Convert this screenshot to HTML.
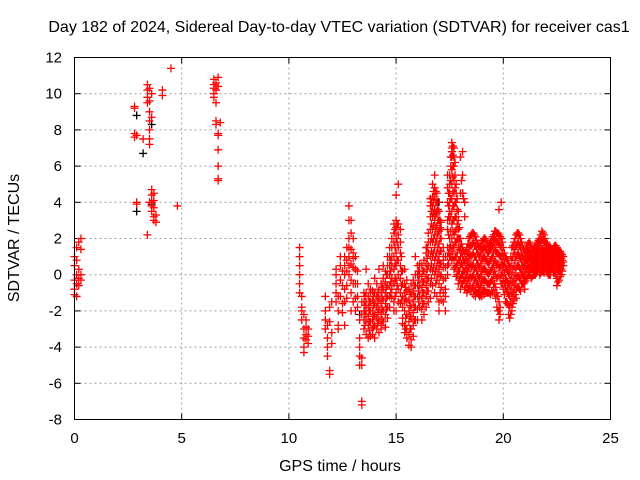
<!DOCTYPE html>
<html><head><meta charset="utf-8"><style>
body{margin:0;background:#fff}
svg{display:block;font-family:"Liberation Sans",sans-serif}
</style></head><body>
<svg id="chart" width="640" height="480" viewBox="0 0 640 480">
<text x="339" y="32" font-size="16" text-anchor="middle">Day 182 of 2024, Sidereal Day-to-day VTEC variation (SDTVAR) for receiver cas1</text>
<text x="340" y="471" font-size="16" text-anchor="middle">GPS time / hours</text>
<text transform="translate(19,238) rotate(-90)" font-size="16" text-anchor="middle">SDTVAR / TECUs</text>
<g id="grid"></g><g id="ticks"></g><g id="black"></g><g id="red"></g>
<rect x="74.5" y="57.5" width="536" height="362" fill="none" stroke="#000"/>
</svg>
<script>
const xTicks=[0,5,10,15,20,25];
const yTicks=[-8,-6,-4,-2,0,2,4,6,8,10,12];
const redGroups=[
[0.0,[-1.1,-0.8,0.5,1,-0.3]],[0.1,[-0.5,0,1.5,-1.2,0.8]],[0.2,[-0.2,0.3,1.8,-0.6]],[0.3,[2,0,-0.3,1.4]],
[2.8,[9.2,9.3,7.8,7.6]],[2.9,[4,3.9,7.7]],[3.2,[7.5]],[3.4,[10.5,10.2,9.8,9.5,2.2]],[3.5,[10.3,9.6,9,8.5,8,7.5,7.2,4]],
[3.6,[10,8.7,4.7,4.4,4,3.8,3.5]],[3.7,[4.5,4.1,3.7,3.2,3]],[3.8,[3.3,2.9]],[4.1,[10.2,9.9]],[4.5,[11.4]],[4.8,[3.8]],
[6.5,[10.8,10.5,10.3,10,9.8]],[6.6,[10.6,10.2,9.5,8.5,8.3]],[6.7,[10.9,10.4,7.8,7.7,6.9,6,5.3,5.2]],[6.8,[8.4]],
[10.5,[1.5,1,0.5,0,-0.5,-1]],[10.6,[-1.2,-1.8,-2,-2.5]],[10.7,[-2.2,-3,-3.5,-4,-4.3]],[10.8,[-2.5,-2.9,-3.3,-3.6]],[10.9,[-3,-3.4,-3.8]],
[11.7,[-1.2,-2,-2.5,-3]],[11.8,[-3.5,-4,-4.5,-2.8]],[11.9,[-5.3,-5.5,-1.8,-2.6]],[12.0,[-3.2,-3.8,-1.5]],
[12.2,[0.3,0,-0.5,-1,-1.5]],[12.3,[-1.2,-2,-2.8,-3]],[12.4,[0.5,1,-0.3,-1.2]],[12.5,[0.2,-0.6,-1.6,-2.1]],
[12.6,[1,0.5,0,-0.8,-1.5,-2.8]],[12.7,[1.5,0.8,0.2,-0.6,-1.3]],[12.8,[3.8,3,2,1.5,1,0.5,0]],[12.9,[3,2.3,1.4,0.6,-0.3,-1,-2]],
[13.0,[2,1.2,0.4,-0.5,-1.5,0.9]],[13.1,[1,0.3,-0.5,-1.3,-2]],[13.2,[0.2,-0.5,-1.2,-1.8]],
[13.3,[-4.5,-5,-4,-3.5,-2.5]],[13.4,[-5,-4.6,-7,-7.2,-2.2,-1.5]],
[13.5,[-1.5,-2,-2.5,-3,-1]],[13.6,[-1,-1.5,-2,-2.5,0.3,-3.3]],[13.7,[-1.2,-1.8,-2.3,-2.8,-3.5,-0.5]],[13.8,[-1,-1.5,-2,-2.6,-3.4,-0.8]],
[13.9,[-0.9,-1.4,-2,-2.5,-3,-3.3]],[14.0,[-1,-1.6,-2.2,-2.8,-3.5,-0.2]],[14.1,[-1.2,-1.8,-2.4,-3,-0.5]],[14.2,[-0.8,-1.3,-1.9,-2.5,-3.2,0.3]],
[14.3,[-0.5,-1,-1.6,-2.2,-2.8,-3]],[14.4,[-0.2,-0.8,-1.4,-2,-2.6,0.5]],[14.5,[0.2,-0.4,-1,-1.6,-2.2,-2.9]],[14.6,[0.5,0,-0.6,-1.2,-1.8,-2.4,1]],
[14.7,[1,0.5,0,-0.6,-1.2,-1.8,1.5]],[14.8,[2,1.5,1,0.5,-0.2,-0.8,-1.3]],[14.9,[2.8,2.3,1.8,1,0.3,-0.5,-1.5,-2]],
[15.0,[3,2.6,2,1.2,0.5,-0.3,-1,-2,4.4]],[15.1,[2.8,2.2,1.5,0.8,0,-0.8,-1.5,5]],[15.2,[1.8,1.2,0.5,-0.2,-1,-1.6,2.5]],
[15.3,[0.2,-0.5,-1.2,-1.8,-2.4,-2.7]],[15.4,[-0.5,-1,-1.5,-2,-2.8,-3.2,0.3]],[15.5,[-0.3,-0.9,-1.5,-2.2,-3,-3.5]],
[15.6,[-0.8,-1.4,-2,-2.6,-3.3,-3.9]],[15.7,[-0.5,-1.1,-1.8,-2.4,-3,-3.6,-4]],[15.8,[-0.3,-0.9,-1.5,-2.1,-2.8,-3.4]],
[15.9,[0,-0.6,-1.2,-1.8,-2.5,1]],[16.0,[0.5,0,-0.6,-1.2,-1.9,-2.5]],[16.1,[0.6,0,-0.6,-1.2,-1.8,0.2]],
[16.2,[0.5,-0.1,-0.7,-1.3,-1.9,-2.5]],[16.3,[0.8,0.2,-0.4,-1,-1.6,-2.2]],[16.4,[1.2,0.6,0,-0.6,-1.2,-1.8,1.5]],
[16.5,[1.8,1.2,0.5,-0.2,-0.9,-1.5,2.3]],[16.6,[3.8,3.2,2.5,1.8,1,0.3,-0.5,-1.3,4.2]],[16.7,[4.3,3.8,3.2,2.5,1.8,1,0.2,-0.6,5]],
[16.8,[4.8,4.3,3.6,3,2.2,1.5,0.8,0,-1,5.5]],[16.9,[4.5,4,3.4,2.7,2,1.2,0.5,-0.3,-1.2,3.5]],[17.0,[3.5,3,2.4,1.7,1,0.3,-0.5,-1.5,-2,0.8]],
[17.1,[2.5,2,1.3,0.6,0,-0.7,-1.4,2.9]],[17.2,[1.5,1,0.4,-0.3,-1,-1.5,0.8]],[17.3,[1,0.4,-0.2,-0.8,-1.2,-2]],
[17.4,[3,4,4.8,5.5,2.5,1.5,1,0.5,0]],[17.5,[5.5,5,4.5,4,3.5,3,2,1.5,1]],[17.6,[7.3,7,6.8,6.5,5.8,5,4.2,3.5,2.8,2,1.3,0.8]],
[17.7,[7,6.5,6,5.2,4.5,3.8,3,2.2,1.5,0.8,0.3]],[17.8,[5,4.5,4,3.2,2.5,1.8,1,0.5,-0.1]],[17.9,[3.5,3,2.5,2,1.5,0.8,0.2,-0.5]],
[18.0,[2,1.5,1,0.5,-0.2,-0.8,4.5,6.5]],[18.1,[1.5,1,0.5,0,-0.5,4.5,5.5,6.8]],[18.2,[1.2,0.7,0.2,-0.3,-0.8,3.2,4]],
[18.3,[1.5,1,0.5,0,-0.5,-1]],[18.4,[2,1.5,1,0.4,-0.2,-0.8]],[18.5,[2.2,1.6,1,0.4,-0.2,-0.9]],[18.6,[2.3,1.8,1.2,0.6,0,-0.6,-1.1]],
[18.7,[2.1,1.6,1,0.4,-0.2,-0.8,-1.2]],[18.8,[1.7,1.2,0.6,0,-0.5,-1]],[18.9,[1.5,1,0.4,-0.2,-0.8,-1.2]],
[19.0,[1.8,1.4,0.8,0.2,-0.4,-1,-1.2]],[19.1,[2,1.5,1,0.3,-0.3,-0.8,-1.1]],[19.2,[1.9,1.4,0.8,0.2,-0.4,-1]],
[19.3,[1.6,1.2,0.6,0,-0.5,-1]],[19.4,[1.8,1.4,0.8,0.2,-0.4,-1.1]],[19.5,[2.1,1.6,1,0.4,-0.3,-1]],
[19.6,[2.4,2,1.5,0.8,0.2,-0.5,-1]],[19.7,[2.3,1.8,1.2,0.5,-0.2,-1,-1.8]],[19.8,[2.2,1.7,1.1,0.4,-1.5,-2,-2.5,3.6]],
[19.9,[2,1.5,1,0.5,0,-0.5,4]],[20.0,[1.5,1,0.4,-0.2,-0.8]],[20.1,[1,0.4,-0.2,-0.8,-1.5,-0.4]],[20.2,[0.8,0.2,-0.4,-1,-1.6,-0.8]],
[20.3,[0.5,0,-0.6,-1.2,-1.8,-2.4]],[20.4,[1.5,0.8,0,-0.6,-1.2,-1.8,-2]],[20.5,[1.8,1.2,0.5,-0.2,-0.8,-1.4]],
[20.6,[2.2,1.6,1,0.4,-0.2,-0.8,-1.3]],[20.7,[2.3,1.8,1.2,0.5,-0.1,-0.7]],[20.8,[2,1.5,0.9,0.3,-0.3,-0.9]],
[20.9,[1.6,1,0.5,0,-0.5]],[21.0,[1.3,0.9,0.5,0,-0.4,-0.8]],[21.1,[1.6,1.2,0.8,0.3,-0.2]],[21.2,[1.8,1.3,0.9,0.4,0]],
[21.3,[1.5,1.1,0.7,0.3,-0.2]],[21.4,[1.4,1,0.6,0.2,0]],[21.5,[1.6,1.2,0.8,0.4,0]],[21.6,[1.8,1.4,1,0.6,0.2]],
[21.7,[2,1.6,1.2,0.8,0.4,0]],[21.8,[2.4,1.9,1.4,1,0.6,0.2]],[21.9,[2.2,1.8,1.3,0.9,0.5,0.1]],[22.0,[1.8,1.4,1,0.6,0.2]],
[22.1,[1.6,1.2,0.8,0.4,0]],[22.2,[1.5,1.1,0.7,0.3,0]],[22.3,[1.4,1,0.7,0.3]],[22.4,[1.6,1.2,0.8,0.4,0.1]],
[22.5,[1.5,1.1,0.7,0.3,-0.2,-0.6]],[22.6,[1.3,1,0.6,0.2,-0.3]],[22.7,[1.2,0.9,0.6,0.3,0]],[22.8,[1,0.7,0.5]]
];
const redGroupsExtra=[
[13.55,[-1.2,-1.7,-2.2,-2.8]],[13.75,[-1.5,-2,-2.6,-3.1]],[13.95,[-1.2,-1.7,-2.3,-2.9]],[14.15,[-1,-1.5,-2.1,-2.7]],
[14.35,[-0.7,-1.3,-1.9,-2.5]],[14.55,[0,-0.7,-1.3,-1.9]],[14.75,[0.8,0.2,-0.4,-1]],[14.95,[2.5,1.5,0.6,-0.2,-1.2]],
[15.05,[2.8,1.8,0.8,-0.6]],[15.25,[1,0.2,-0.6,-1.4]],[15.45,[-0.7,-1.3,-2.4,-3]],[15.65,[-1,-1.7,-2.3,-3]],
[15.85,[-0.6,-1.2,-1.8,-2.5]],[16.05,[0.2,-0.3,-0.9,-1.5]],[16.25,[0.2,-0.4,-1,-1.6]],[16.45,[1.5,0.9,0.3,-0.3,-0.9]],
[16.65,[4,3.5,2.8,2,1.3,0.6,-0.2]],[16.75,[4.6,4,3.4,2.7,2,1.2,0.4]],[16.85,[4.6,4,3.3,2.6,1.8,1,0.2,-0.5]],
[16.95,[4,3.6,3,2.3,1.5,0.8,0]],[17.05,[3,2.6,2,1.3,0.6,-0.1,-1]],[17.45,[4.5,3.8,3.2,2.2,1.2,0.6]],
[17.55,[6.5,6,5.2,4.2,3.2,2.4,1.6,1]],[17.65,[7.1,6.6,6,5.4,4.6,3.8,3,2.4,1.6,1]],[17.75,[6.2,5.5,4.8,4,3.2,2.4,1.8,1,0.4]],
[17.85,[4.2,3.6,2.8,2,1.2,0.6,0]],[17.95,[2.6,2,1.4,0.8,0.2,-0.3]],[18.05,[1.7,1.2,0.6,0,-0.5,5.2]],
[18.15,[1.3,0.8,0.2,-0.3,4.2]],[18.25,[1.3,0.8,0.3,-0.2,-0.7]],[18.35,[1.7,1.2,0.7,0.2,-0.3,-0.8]],
[18.45,[2.1,1.6,1.1,0.6,0,-0.6]],[18.55,[2.3,1.7,1.1,0.5,-0.1,-0.7]],[18.65,[2.2,1.6,1,0.3,-0.3,-0.9]],
[18.75,[1.9,1.4,0.8,0.2,-0.4,-1]],[18.85,[1.6,1.1,0.5,-0.1,-0.7,-1.1]],[18.95,[1.6,1.2,0.6,0,-0.6,-1.1]],
[19.05,[1.9,1.4,0.9,0.3,-0.3,-0.9]],[19.15,[2,1.5,0.9,0.3,-0.3,-0.9]],[19.25,[1.7,1.2,0.7,0.1,-0.5,-1]],
[19.35,[1.7,1.3,0.7,0.1,-0.5,-1]],[19.45,[1.9,1.5,0.9,0.3,-0.3,-0.9]],[19.55,[2.2,1.8,1.2,0.6,0,-0.7]],
[19.65,[2.4,1.9,1.3,0.7,0,-0.7,-1.3]],[19.75,[2.3,1.8,1.2,0.6,-0.1,-1.2,-2]],[19.85,[2.1,1.6,1,0.4,-0.2,-1.8,-2.2]],
[19.95,[1.8,1.2,0.7,0.1,-0.5]],[20.05,[1.2,0.7,0.1,-0.5,-1.1]],[20.15,[0.9,0.3,-0.3,-0.9,-1.5]],[20.25,[0.6,0.1,-0.5,-1.1,-1.7,-2.2]],
[20.35,[1,0.4,-0.3,-0.9,-1.5,-2.2]],[20.45,[1.6,1,0.3,-0.4,-1,-1.6]],[20.55,[2,1.4,0.8,0.1,-0.5,-1.1]],
[20.65,[2.3,1.7,1.1,0.5,-0.1,-0.7]],[20.75,[2.2,1.6,1,0.4,-0.2,-0.8]],[20.85,[1.8,1.2,0.7,0.1,-0.5]],
[20.95,[1.4,0.9,0.4,-0.1,-0.5]],[21.05,[1.4,1,0.6,0.2,-0.3]],[21.15,[1.7,1.3,0.9,0.5,0]],[21.25,[1.7,1.2,0.8,0.4,0]],
[21.35,[1.4,1,0.6,0.2,-0.1]],[21.45,[1.5,1.1,0.7,0.3,0]],[21.55,[1.7,1.3,0.9,0.5,0.1]],[21.65,[1.9,1.5,1.1,0.7,0.3]],
[21.75,[2.2,1.8,1.3,0.9,0.5,0.1]],[21.85,[2.3,1.9,1.4,1,0.6,0.2]],[21.95,[2,1.6,1.2,0.8,0.4]],[22.05,[1.7,1.3,0.9,0.5,0.1]],
[22.15,[1.5,1.1,0.7,0.3,0]],[22.25,[1.4,1,0.6,0.3]],[22.35,[1.5,1.1,0.7,0.4,0.1]],[22.45,[1.6,1.2,0.8,0.4,0]],
[22.55,[1.4,1,0.6,0.2,-0.4]],[22.65,[1.3,0.9,0.6,0.2,-0.1]],[22.75,[1.1,0.8,0.5,0.2]]
];
const blackGroups=[[2.9,[3.5,8.8]],[3.2,[6.7]],[3.6,[3.9,8.3]],[13.3,[-2.2]],[14.5,[-1]],[16.8,[3.5]],[17.6,[6.8]],[17.0,[4]],[18.1,[4.5]],[20.0,[0.5]]];

const X0=74.5,X1=610.5,Y0=419.5,Y1=57.5;
const xs=t=>X0+(t-0)/(25-0)*(X1-X0);
const ys=v=>Y0-(v+8)/(20)*(Y0-Y1);
const NS='http://www.w3.org/2000/svg';
function mk(tag,attrs,parent){const e=document.createElementNS(NS,tag);for(const k in attrs)e.setAttribute(k,attrs[k]);parent.appendChild(e);return e;}
const grid=document.getElementById('grid'),ticks=document.getElementById('ticks');
xTicks.forEach(t=>{const x=xs(t);
 if(t>0&&t<25){const g=mk('line',{x1:x,x2:x,y1:Y1,y2:Y0,stroke:'#a0a0a0','stroke-dasharray':'2,3'},grid);
 
 }
 mk('line',{x1:x,x2:x,y1:Y0,y2:Y0-6,stroke:'#000'},ticks);
 mk('line',{x1:x,x2:x,y1:Y1,y2:Y1+6,stroke:'#000'},ticks);
 const l=mk('text',{x:x,y:443,'font-size':15,'text-anchor':'middle'},ticks);l.textContent=t;
 
 
});
yTicks.forEach(v=>{const y=ys(v);
 if(v>-8&&v<12){const g=mk('line',{x1:X0,x2:X1,y1:y,y2:y,stroke:'#a0a0a0','stroke-dasharray':'2,3'},grid);
 
 }
 mk('line',{x1:X0,x2:X0+6,y1:y,y2:y,stroke:'#000'},ticks);
 mk('line',{x1:X1,x2:X1-6,y1:y,y2:y,stroke:'#000'},ticks);
 const l=mk('text',{x:62,y:y+5,'font-size':15,'text-anchor':'end'},ticks);l.textContent=v;
 
 
});
function draw(groups,color,gid,name){const g=document.getElementById(gid);let d='';
 groups.forEach(([t,vals])=>vals.forEach(v=>{const x=xs(t),y=ys(v);d+=`M${x-4},${y}h8M${x},${y-4}v8`;}));
 const p=mk('path',{d:d,stroke:color,'stroke-width':1.3,fill:'none'},g);
 
 
}
draw(blackGroups,'#000','black','black-series-points');
draw(redGroups,'#ff0000','red','red-series-points');
draw(redGroupsExtra,'#ff0000','red','red-series-points-extra');
</script>
</body></html>
